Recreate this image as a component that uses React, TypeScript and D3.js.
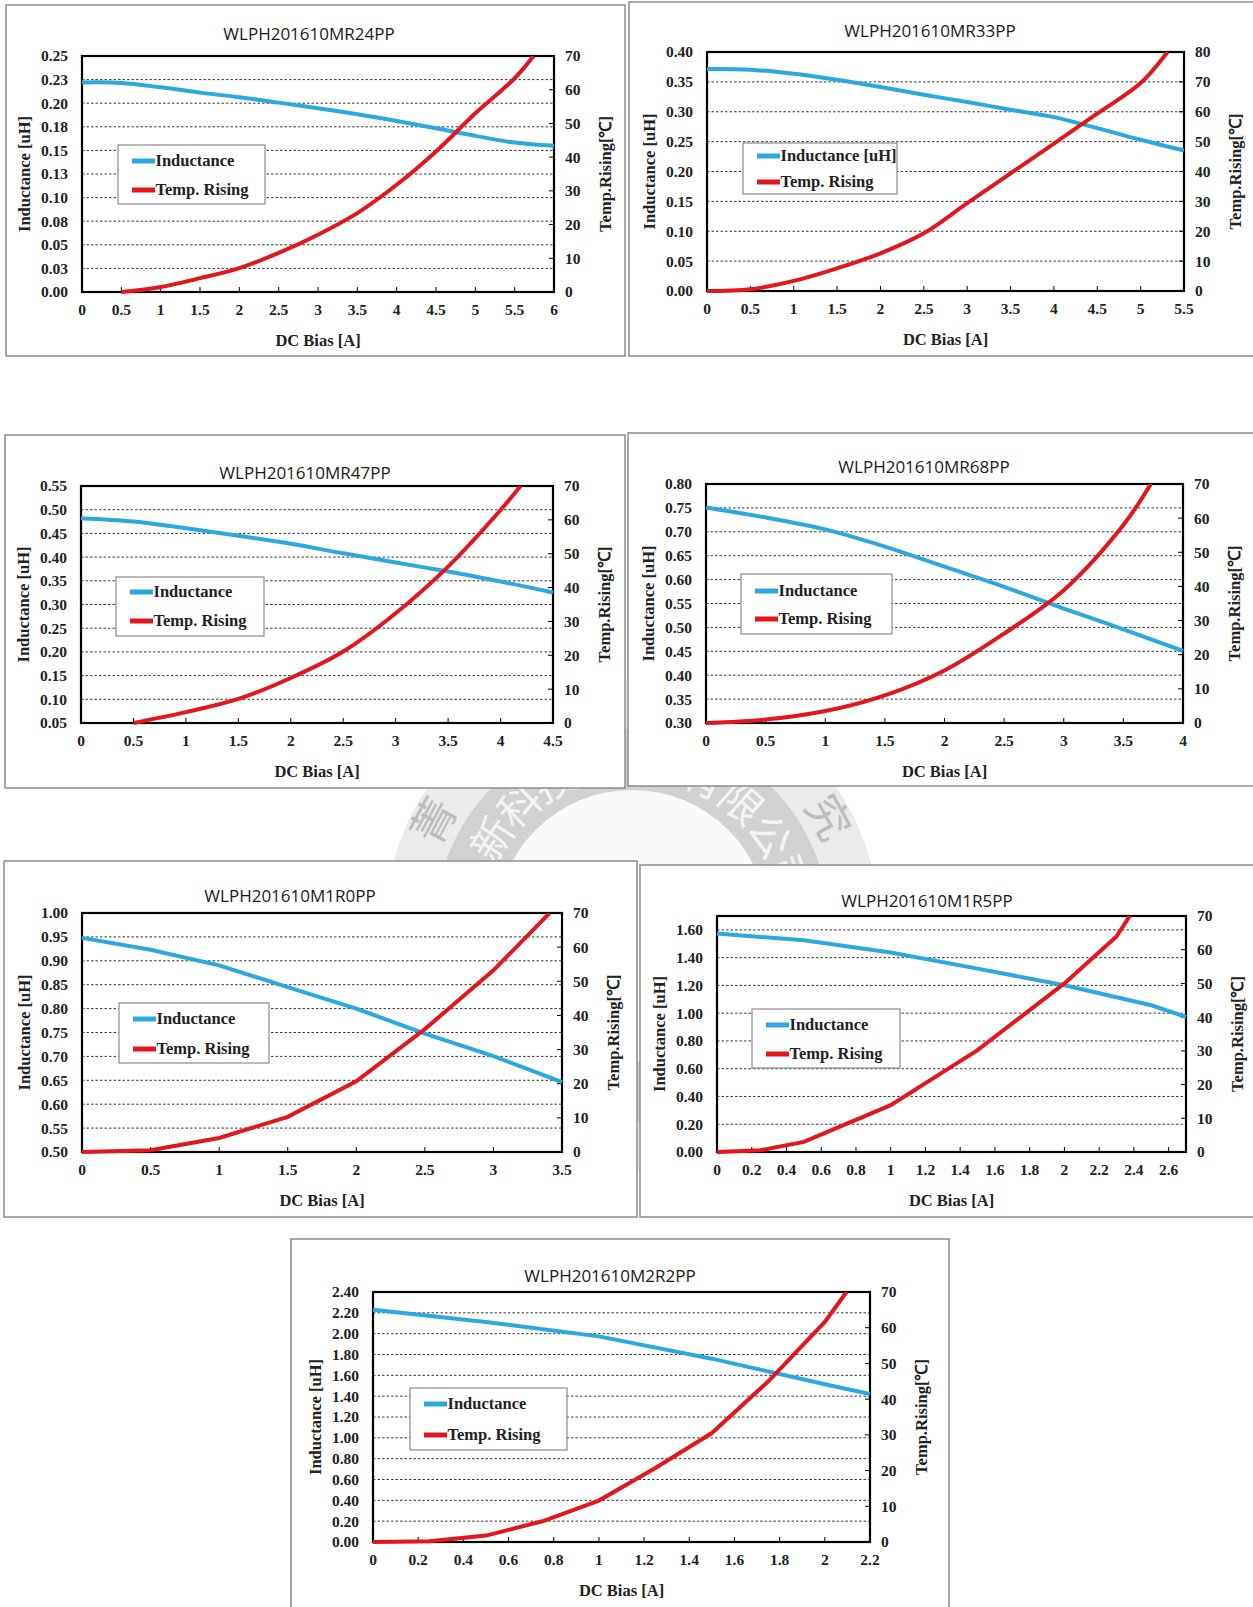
import React from "react";
import * as d3 from "d3";

// ---------- data ----------
const titles = [
  "WLPH201610MR24PP",
  "WLPH201610MR33PP",
  "WLPH201610MR47PP",
  "WLPH201610MR68PP",
  "WLPH201610M1R0PP",
  "WLPH201610M1R5PP",
  "WLPH201610M2R2PP",
];

// MR24
const r24Bias = [0, 0.5, 1, 1.5, 2, 2.5, 3, 3.5, 4, 4.5, 5, 5.5, 6];
const r24Inductance = [0.222, 0.2215, 0.2168, 0.2112, 0.2063, 0.2006, 0.1946, 0.1883, 0.1812, 0.1735, 0.1654, 0.1583, 0.1548];
const r24TempBias = [0.5, 1, 1.5, 2, 2.5, 3, 3.5, 4, 4.5, 5, 5.5, 5.74];
const r24Temp = [0, 1.5, 4.1, 7.1, 11.6, 17, 23.4, 31.8, 41.7, 53, 63.4, 70];
const r24YTicks = [0, 0.025, 0.05, 0.075, 0.1, 0.125, 0.15, 0.175, 0.2, 0.225, 0.25];
const r24XTicks = [0, 0.5, 1, 1.5, 2, 2.5, 3, 3.5, 4, 4.5, 5, 5.5, 6];

// MR33
const r33Bias = [0, 0.5, 1, 1.5, 2, 2.5, 3, 3.5, 4, 4.5, 5, 5.5];
const r33Inductance = [0.3715, 0.3704, 0.3637, 0.3536, 0.3413, 0.3285, 0.3162, 0.3034, 0.291, 0.2726, 0.2531, 0.2352];
const r33TempBias = [0, 0.5, 1, 1.5, 2, 2.5, 3, 3.5, 4, 4.5, 5, 5.31];
const r33Temp = [0, 0.6, 3.4, 7.6, 12.6, 19.3, 29.4, 39.4, 49.3, 59.4, 69.6, 80];
const r33YTicks = [0, 0.05, 0.1, 0.15, 0.2, 0.25, 0.3, 0.35, 0.4];
const r33XTicks = [0, 0.5, 1, 1.5, 2, 2.5, 3, 3.5, 4, 4.5, 5, 5.5];

// MR47
const r47Bias = [0, 0.5, 1, 1.5, 2, 2.5, 3, 3.5, 4, 4.5];
const r47Inductance = [0.482, 0.475, 0.461, 0.445, 0.428, 0.408, 0.3885, 0.3695, 0.3485, 0.3253];
const r47TempBias = [0.5, 1, 1.5, 2, 2.5, 3, 3.5, 4, 4.19];
const r47Temp = [0, 3.2, 7.1, 13.3, 21.1, 32.4, 46.2, 62.9, 70];
const r47YTicks = [0.05, 0.1, 0.15, 0.2, 0.25, 0.3, 0.35, 0.4, 0.45, 0.5, 0.55];
const r47XTicks = [0, 0.5, 1, 1.5, 2, 2.5, 3, 3.5, 4, 4.5];

// MR68
const r68Bias = [0, 0.5, 1, 1.5, 2, 2.5, 3, 3.5, 4];
const r68Inductance = [0.751, 0.73, 0.705, 0.669, 0.627, 0.585, 0.5395, 0.496, 0.451];
const r68TempBias = [0, 0.5, 1, 1.5, 2, 2.5, 3, 3.5, 3.73];
const r68Temp = [0, 1, 3.5, 8.1, 15.4, 26.2, 38.9, 58, 70];
const r68YTicks = [0.3, 0.35, 0.4, 0.45, 0.5, 0.55, 0.6, 0.65, 0.7, 0.75, 0.8];
const r68XTicks = [0, 0.5, 1, 1.5, 2, 2.5, 3, 3.5, 4];

// M1R0
const m1r0Bias = [0, 0.5, 1, 1.5, 2, 2.5, 3, 3.5];
const m1r0Inductance = [0.948, 0.923, 0.8905, 0.845, 0.8, 0.7476, 0.7008, 0.6464];
const m1r0TempBias = [0, 0.5, 1, 1.5, 2, 2.5, 3, 3.41];
const m1r0Temp = [0, 0.5, 4.1, 10.3, 20.7, 36, 53.2, 70];
const m1r0YTicks = [0.5, 0.55, 0.6, 0.65, 0.7, 0.75, 0.8, 0.85, 0.9, 0.95, 1.0];
const m1r0XTicks = [0, 0.5, 1, 1.5, 2, 2.5, 3, 3.5];

// M1R5
const m1r5Bias = [0, 0.5, 1, 1.5, 2, 2.5, 2.7];
const m1r5Inductance = [1.574, 1.525, 1.437, 1.321, 1.201, 1.057, 0.973];
const m1r5TempBias = [0, 0.25, 0.5, 1, 1.5, 2, 2.3, 2.376];
const m1r5Temp = [0, 0.5, 3, 13.9, 30.2, 50, 63.9, 70];
const m1r5YTicks = [0, 0.2, 0.4, 0.6, 0.8, 1.0, 1.2, 1.4, 1.6];
const m1r5XTicks = [0, 0.2, 0.4, 0.6, 0.8, 1, 1.2, 1.4, 1.6, 1.8, 2, 2.2, 2.4, 2.6];

// M2R2
const m2r2Bias = [0, 0.5, 1, 1.5, 2, 2.2];
const m2r2Inductance = [2.23, 2.112, 1.974, 1.76, 1.514, 1.421];
const m2r2TempBias = [0, 0.25, 0.5, 0.75, 1, 1.25, 1.5, 1.75, 2, 2.096];
const m2r2Temp = [0, 0.2, 1.8, 5.8, 11.6, 20.7, 30.5, 45, 61.6, 70];
const m2r2YTicks = [0, 0.2, 0.4, 0.6, 0.8, 1.0, 1.2, 1.4, 1.6, 1.8, 2.0, 2.2, 2.4];
const m2r2XTicks = [0, 0.2, 0.4, 0.6, 0.8, 1, 1.2, 1.4, 1.6, 1.8, 2, 2.2];

const temp70Ticks = [0, 10, 20, 30, 40, 50, 60, 70];
const temp80Ticks = [0, 10, 20, 30, 40, 50, 60, 70, 80];

const seriesNames = ["Inductance", "Temp. Rising"];

// ---------- layout (page pixels) ----------
const layouts = [
  { frame: [6, 5, 619, 351], plot: [82, 56, 554, 292], title: [309, 40], legend: [118, 145, 147, 59], rows: [161, 190], curve: "smooth" },
  { frame: [629, 2, 640, 354], plot: [707, 52, 1184, 291], title: [930, 37], legend: [743, 143, 154, 51], rows: [156, 182], curve: "smooth" },
  { frame: [5, 435, 620, 353], plot: [81, 486, 553, 723], title: [305, 479], legend: [116, 577, 148, 59], rows: [592, 621], curve: "smooth" },
  { frame: [628, 433, 640, 353], plot: [706, 484, 1183, 723], title: [924, 473], legend: [741, 574, 151, 60], rows: [591, 619], curve: "smooth" },
  { frame: [4, 861, 633, 356], plot: [82, 913, 562, 1152], title: [290, 902], legend: [119, 1003, 150, 60], rows: [1019, 1049], curve: "linear" },
  { frame: [640, 865, 630, 352], plot: [717, 916, 1186, 1152], title: [927, 907], legend: [752, 1009, 148, 59], rows: [1025, 1054], curve: "linear" },
  { frame: [291, 1239, 658, 400], plot: [373, 1292, 870, 1542], title: [610, 1282], legend: [410, 1388, 157, 62], rows: [1404, 1435], curve: "linear" },
];

const panels = [
  { bias: r24Bias, ind: r24Inductance, tBias: r24TempBias, temp: r24Temp, yTicks: r24YTicks, yDomain: [0, 0.25], xTicks: r24XTicks, xMax: 6, tTicks: temp70Ticks, indName: "Inductance" },
  { bias: r33Bias, ind: r33Inductance, tBias: r33TempBias, temp: r33Temp, yTicks: r33YTicks, yDomain: [0, 0.4], xTicks: r33XTicks, xMax: 5.5, tTicks: temp80Ticks, indName: "Inductance [uH]" },
  { bias: r47Bias, ind: r47Inductance, tBias: r47TempBias, temp: r47Temp, yTicks: r47YTicks, yDomain: [0.05, 0.55], xTicks: r47XTicks, xMax: 4.5, tTicks: temp70Ticks, indName: "Inductance" },
  { bias: r68Bias, ind: r68Inductance, tBias: r68TempBias, temp: r68Temp, yTicks: r68YTicks, yDomain: [0.3, 0.8], xTicks: r68XTicks, xMax: 4, tTicks: temp70Ticks, indName: "Inductance" },
  { bias: m1r0Bias, ind: m1r0Inductance, tBias: m1r0TempBias, temp: m1r0Temp, yTicks: m1r0YTicks, yDomain: [0.5, 1.0], xTicks: m1r0XTicks, xMax: 3.5, tTicks: temp70Ticks, indName: "Inductance" },
  { bias: m1r5Bias, ind: m1r5Inductance, tBias: m1r5TempBias, temp: m1r5Temp, yTicks: m1r5YTicks, yDomain: [0, 1.7], xTicks: m1r5XTicks, xMax: 2.7, tTicks: temp70Ticks, indName: "Inductance" },
  { bias: m2r2Bias, ind: m2r2Inductance, tBias: m2r2TempBias, temp: m2r2Temp, yTicks: m2r2YTicks, yDomain: [0, 2.4], xTicks: m2r2XTicks, xMax: 2.2, tTicks: temp70Ticks, indName: "Inductance" },
];

const SERIF = '"Liberation Serif", "Times New Roman", serif';
const SANS = '"Open Sans", "Liberation Sans", sans-serif';
const BLUE = "#2aa8df";
const RED = "#e3161c";

// excel-like rounding: 0.175 -> 0.18
const fmtY = (v: number) => (Math.round(v * 100 + 1e-6) / 100).toFixed(2);
const fmtX = (v: number) => String(Math.round(v * 10) / 10);

function Panel({ idx }: { idx: number }) {
  const p = panels[idx];
  const lay = layouts[idx];
  const [L, T, R, B] = lay.plot;
  const x = d3.scaleLinear().domain([0, p.xMax]).range([L, R]);
  const y = d3.scaleLinear().domain(p.yDomain).range([B, T]);
  const y2 = d3.scaleLinear().domain([0, p.tTicks[p.tTicks.length - 1]]).range([B, T]);
  const curve = lay.curve === "smooth" ? d3.curveCatmullRom.alpha(0.5) : d3.curveLinear;

  const indLine = d3.line<number>()
    .x((_, i) => x(p.bias[i]))
    .y((d) => y(d))
    .curve(curve);
  const tempLine = d3.line<number>()
    .x((_, i) => x(p.tBias[i]))
    .y((d) => y2(d))
    .curve(curve);

  const clipId = `clip-${idx}`;
  const [fx, fy, fw, fh] = lay.frame;
  const [lx, ly, lw, lh] = lay.legend;
  const grid = p.yTicks.filter((v) => v > p.yDomain[0] + 1e-9 && v < p.yDomain[1] - 1e-9);
  const cy = (T + B) / 2;

  return (
    <g>
      <rect x={fx} y={fy} width={fw} height={fh} fill="#fff" stroke="#8c8c8c" strokeWidth={1.5} />
      <text x={lay.title[0]} y={lay.title[1]} textAnchor="middle" fontFamily={SANS} fontSize={17} fill="#1a1a1a">
        {titles[idx]}
      </text>
      <defs>
        <clipPath id={clipId}>
          <rect x={L - 4} y={T} width={R - L + 8} height={B - T + 4} />
        </clipPath>
      </defs>
      <rect x={L} y={T} width={R - L} height={B - T} fill="#fff" />
      {grid.map((v) => (
        <line key={"g" + v} x1={L} x2={R} y1={y(v)} y2={y(v)} stroke="#3a3a3a" strokeWidth={1} strokeDasharray="2.5,2" />
      ))}
      {p.tTicks.map((v) => (
        <line key={"rt" + v} x1={R - 5} x2={R} y1={y2(v)} y2={y2(v)} stroke="#000" strokeWidth={1} />
      ))}
      {p.xTicks.map((v) => (
        <line key={"xt" + v} x1={x(v)} x2={x(v)} y1={B - 5} y2={B} stroke="#000" strokeWidth={1} />
      ))}
      <rect x={L} y={T} width={R - L} height={B - T} fill="none" stroke="#000" strokeWidth={2.2} />
      <g clipPath={`url(#${clipId})`}>
        <path d={indLine(p.ind) || ""} fill="none" stroke={BLUE} strokeWidth={4} />
        <path d={tempLine(p.temp) || ""} fill="none" stroke={RED} strokeWidth={4} />
      </g>

      {/* left axis labels */}
      {p.yTicks.map((v) => (
        <text key={"yl" + v} x={L - 14} y={y(v)} dy="0.35em" textAnchor="end" fontFamily={SERIF} fontWeight="bold" fontSize={15.5} fill="#222">
          {fmtY(v)}
        </text>
      ))}
      {/* right axis labels */}
      {p.tTicks.map((v) => (
        <text key={"tl" + v} x={R + 11} y={y2(v)} dy="0.35em" textAnchor="start" fontFamily={SERIF} fontWeight="bold" fontSize={15.5} fill="#222">
          {v}
        </text>
      ))}
      {/* bottom axis labels */}
      {p.xTicks.map((v) => (
        <text key={"xl" + v} x={x(v)} y={B + 23} textAnchor="middle" fontFamily={SERIF} fontWeight="bold" fontSize={15.5} fill="#222">
          {fmtX(v)}
        </text>
      ))}

      <text x={(L + R) / 2} y={B + 54} textAnchor="middle" fontFamily={SERIF} fontWeight="bold" fontSize={16.5} fill="#222">
        DC Bias [A]
      </text>
      <text transform={`translate(${L - 58},${cy}) rotate(-90)`} textAnchor="middle" dy="0.35em" fontFamily={SERIF} fontWeight="bold" fontSize={16.5} fill="#222">
        Inductance [uH]
      </text>
      <text transform={`translate(${R + 51},${cy}) rotate(-90)`} textAnchor="middle" dy="0.35em" fontFamily={SERIF} fontWeight="bold" fontSize={16.5} fill="#222">
        Temp.Rising[℃]
      </text>

      {/* legend */}
      <rect x={lx} y={ly} width={lw} height={lh} fill="#fff" stroke="#8a8a8a" strokeWidth={1.2} />
      {[p.indName, seriesNames[1]].map((name, i) => (
        <g key={name}>
          <line x1={lx + 14} x2={lx + 37} y1={lay.rows[i]} y2={lay.rows[i]} stroke={i === 0 ? BLUE : RED} strokeWidth={5} />
          <text x={lx + 37.5} y={lay.rows[i]} dy="0.33em" fontFamily={SERIF} fontWeight="bold" fontSize={16.5} fill="#222">
            {name}
          </text>
        </g>
      ))}
    </g>
  );
}

// faint company seal behind the charts
const sealInner = ["新", "科", "技", "有", "限", "公", "司"];
const sealInnerAngles = [-58, -43, -28, 26, 41.5, 57, 72];
const sealOuter = ["菁", "究"];
const sealOuterAngles = [-62, 61];

function Seal() {
  const cx = 632;
  const cy = 926;
  const place = (r: number, a: number) => {
    const t = (a * Math.PI) / 180;
    return `translate(${cx + r * Math.sin(t)},${cy - r * Math.cos(t)}) rotate(${a})`;
  };
  return (
    <g>
      <circle cx={cx} cy={cy} r={247} fill="#ebebeb" />
      <circle cx={cx} cy={cy} r={197} fill="#d2d2d2" />
      <circle cx={cx} cy={cy} r={136} fill="#fafafa" />
      {sealInner.map((c, i) => (
        <text key={c} transform={place(164, sealInnerAngles[i])} textAnchor="middle" dy="0.35em" fontFamily='"Noto Sans CJK SC"' fontSize={42} fill="#f4f4f4">
          {c}
        </text>
      ))}
      {sealOuter.map((c, i) => (
        <text key={c} transform={place(224, sealOuterAngles[i])} textAnchor="middle" dy="0.35em" fontFamily='"Noto Sans CJK SC"' fontSize={44} fill="#bdbdbd">
          {c}
        </text>
      ))}
    </g>
  );
}

export default function App() {
  return (
    <svg width={1253} height={1607} style={{ position: "absolute", left: 0, top: 0 }}>
      <rect width={1253} height={1607} fill="#fff" />
      <Seal />
      {panels.map((_, i) => (
        <Panel key={i} idx={i} />
      ))}
    </svg>
  );
}
